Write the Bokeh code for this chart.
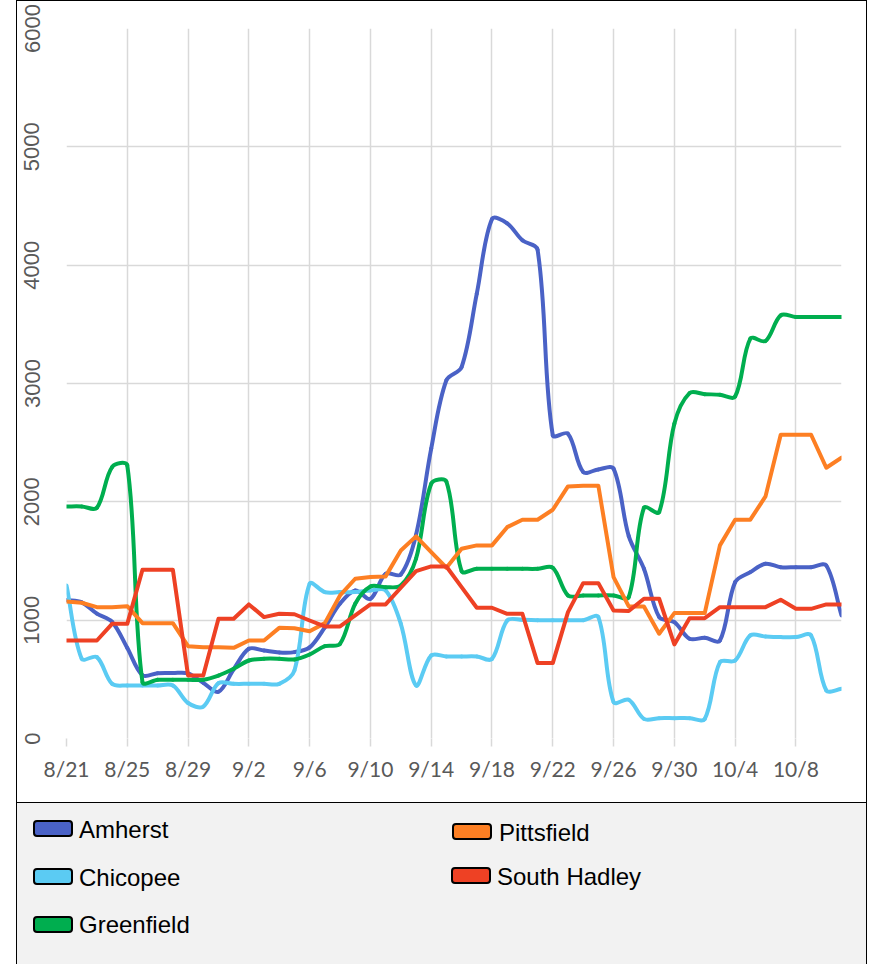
from bokeh.plotting import figure
from bokeh.layouts import column
from bokeh.models import FixedTicker, Range1d, Div
from bokeh.embed import file_html
from bokeh.resources import INLINE

# ---------------- data ----------------
dates = ["8/21", "8/22", "8/23", "8/24", "8/25", "8/26", "8/27", "8/28", "8/29", "8/30",
         "8/31", "9/1", "9/2", "9/3", "9/4", "9/5", "9/6", "9/7", "9/8", "9/9",
         "9/10", "9/11", "9/12", "9/13", "9/14", "9/15", "9/16", "9/17", "9/18", "9/19",
         "9/20", "9/21", "9/22", "9/23", "9/24", "9/25", "9/26", "9/27", "9/28", "9/29",
         "9/30", "10/1", "10/2", "10/3", "10/4", "10/5", "10/6", "10/7", "10/8", "10/9",
         "10/10", "10/11"]

amherst = [1170, 1150, 1055, 985, 765, 535, 552, 553, 550, 470,
           395, 585, 758, 743, 727, 730, 770, 940, 1140, 1251,
           1180, 1392, 1386, 1720, 2450, 3027, 3139, 3760, 4390, 4354,
           4210, 4130, 2562, 2576, 2252, 2274, 2280, 1710, 1434, 1026,
           983, 843, 851, 828, 1321, 1406, 1477, 1448, 1448, 1448,
           1462, 1040]

chicopee = [1293, 674, 688, 462, 448, 448, 448, 448, 300, 270,
            468, 462, 462, 462, 462, 575, 1308, 1237, 1237, 1237,
            1251, 1251, 969, 448, 702, 693, 693, 693, 673, 997,
            1003, 1000, 1000, 1000, 1000, 1026, 307, 327, 166, 172,
            172, 172, 165, 645, 659, 871, 862, 857, 857, 871,
            406, 420]

greenfield = [1961, 1961, 1950, 2294, 2308, 476, 496, 496, 496, 496,
              532, 589, 659, 674, 674, 668, 710, 780, 800, 1139,
              1285, 1279, 1293, 1519, 2153, 2170, 1415, 1434, 1434, 1434,
              1434, 1434, 1443, 1209, 1209, 1209, 1209, 1195, 1950, 1913,
              2660, 2919, 2910, 2905, 2890, 3379, 3359, 3576, 3562, 3562,
              3562, 3562]

pittsfield = [1158, 1147, 1110, 1110, 1118, 975, 975, 975, 780, 772,
              772, 766, 828, 828, 935, 932, 907, 975, 1209, 1350,
              1364, 1370, 1589, 1708, 1575, 1443, 1604, 1632, 1632, 1786,
              1849, 1849, 1933, 2130, 2136, 2136, 1364, 1116, 1116, 885,
              1060, 1060, 1060, 1632, 1849, 1849, 2046, 2567, 2567, 2567,
              2288, 2373]

south_hadley = [828, 828, 828, 969, 969, 1426, 1426, 1426, 532, 532,
                1012, 1012, 1133, 1026, 1054, 1050, 997, 947, 947, 1040,
                1133, 1133, 1274, 1415, 1454, 1454, 1279, 1105, 1105, 1054,
                1054, 637, 637, 1068, 1313, 1313, 1082, 1077, 1181, 1181,
                795, 1017, 1017, 1110, 1110, 1110, 1110, 1172, 1096, 1096,
                1133, 1133]

series_names = ["Amherst", "Chicopee", "Greenfield", "Pittsfield", "South Hadley"]
series_values = [amherst, chicopee, greenfield, pittsfield, south_hadley]
series_colors = ["#4A62C6", "#5BCBF3", "#00AE4F", "#FD7F23", "#EE4124"]
series_smooth = [True, True, True, False, False]

tick_days = list(range(0, 49, 4))
tick_labels = [dates[d] for d in tick_days]
y_ticks = [0, 1000, 2000, 3000, 4000, 5000, 6000]

days = list(range(len(dates)))

# ---------------- chart ----------------
W, H = 849, 801
ML, MR, MT, MB = 49, 25, 27, 64
X_END, Y_END = 51, 6000

p = figure(width=W, height=H, x_range=Range1d(0, X_END), y_range=Range1d(0, Y_END),
           output_backend="svg", toolbar_location=None,
           min_border_left=ML, min_border_right=MR, min_border_top=MT, min_border_bottom=MB)
p.outline_line_color = None
p.background_fill_color = "white"
p.border_fill_color = "white"

p.xaxis.ticker = FixedTicker(ticks=tick_days)
p.xaxis.major_label_overrides = {d: lab for d, lab in zip(tick_days, tick_labels)}
p.xaxis.axis_line_color = None
p.xaxis.major_tick_out = 8
p.xaxis.major_tick_in = 0
p.xaxis.major_tick_line_color = "#d9d9d9"
p.xaxis.major_tick_line_width = 1.5
p.xaxis.minor_tick_line_color = None
p.xaxis.major_label_standoff = 9
p.xaxis.major_label_text_font = "Lato"
p.xaxis.major_label_text_font_size = "21px"
p.xaxis.major_label_text_color = "#595959"

p.yaxis.ticker = FixedTicker(ticks=y_ticks)
p.yaxis.axis_line_color = None
p.yaxis.major_tick_line_color = None
p.yaxis.minor_tick_line_color = None
p.yaxis.major_tick_out = 0
p.yaxis.major_tick_in = 0
p.yaxis.major_label_orientation = "parallel"
p.yaxis.major_label_standoff = 27
p.yaxis.major_label_text_font = "Liberation Sans"
p.yaxis.major_label_text_font_size = "22px"
p.yaxis.major_label_text_color = "#595959"

p.xgrid.grid_line_color = "#d9d9d9"
p.xgrid.grid_line_width = 1.5
p.ygrid.grid_line_color = "#d9d9d9"
p.ygrid.grid_line_width = 1.5

# pixel scale of the frame, used to weight the smoothing like a spreadsheet "smoothed line"
sx = (W - ML - MR) / X_END
sy = (H - MT - MB) / Y_END


def smooth_segments(xs, ys):
    n = len(xs)
    pts = [(x * sx, y * sy) for x, y in zip(xs, ys)]

    def dist(a, b):
        return ((a[0] - b[0]) ** 2 + (a[1] - b[1]) ** 2) ** 0.5

    out = {k: [] for k in ("x0", "y0", "x1", "y1", "cx0", "cy0", "cx1", "cy1")}
    for i in range(n - 1):
        p0 = pts[max(i - 1, 0)]
        p1 = pts[i]
        p2 = pts[i + 1]
        p3 = pts[min(i + 2, n - 1)]
        d01, d12, d23 = dist(p0, p1), dist(p1, p2), dist(p2, p3)
        w1 = d12 / (d01 + d12) / 3.0 if d01 + d12 > 0 else 0
        w2 = d12 / (d12 + d23) / 3.0 if d12 + d23 > 0 else 0
        c1 = (p1[0] + (p2[0] - p0[0]) * w1, p1[1] + (p2[1] - p0[1]) * w1)
        c2 = (p2[0] - (p3[0] - p1[0]) * w2, p2[1] - (p3[1] - p1[1]) * w2)
        out["x0"].append(xs[i]); out["y0"].append(ys[i])
        out["x1"].append(xs[i + 1]); out["y1"].append(ys[i + 1])
        out["cx0"].append(c1[0] / sx); out["cy0"].append(c1[1] / sy)
        out["cx1"].append(c2[0] / sx); out["cy1"].append(c2[1] / sy)
    return out


for name, vals, col, sm in zip(series_names, series_values, series_colors, series_smooth):
    if sm:
        seg = smooth_segments(days, vals)
        p.bezier(line_color=col, line_width=4, line_cap="round", **seg)
    else:
        p.line(days, vals, line_color=col, line_width=4, line_join="round", line_cap="round")

# ---------------- legend strip (grey panel under the chart) ----------------
# layout of the legend entries: (swatch left, swatch top, label left, label top) in px
legend_slots = [(16, 17, 62, 14), (16, 65, 62, 62), (16, 113, 62, 109),
                (435, 20, 482, 17), (434, 64, 480, 61)]

parts = []
for name, col, (swl, swt, lbl, lbt) in zip(series_names, series_colors, legend_slots):
    parts.append(
        f'<div style="position:absolute;left:{swl}px;top:{swt}px;width:40px;height:17px;'
        f'box-sizing:border-box;background:{col};border:2px solid #000;border-radius:4px;"></div>'
    )
    parts.append(
        f'<div style="position:absolute;left:{lbl}px;top:{lbt}px;line-height:25px;'
        f'white-space:nowrap;">{name}</div>'
    )

legend_html = (
    '<div style="position:relative;width:849px;height:162px;box-sizing:border-box;'
    'background:#f2f2f2;border-top:1px solid #000;margin:0;padding:0;'
    "font-family:'Liberation Sans', Arial, sans-serif;font-size:24px;color:#000;\">"
    + "".join(parts) + "</div>"
)

legend_div = Div(text=legend_html, width=W, height=162, margin=0)

root = column(p, legend_div, spacing=0,
              styles={"border": "1px solid black", "margin-left": "16px"})

open("out.html", "w").write(file_html(root, INLINE))
